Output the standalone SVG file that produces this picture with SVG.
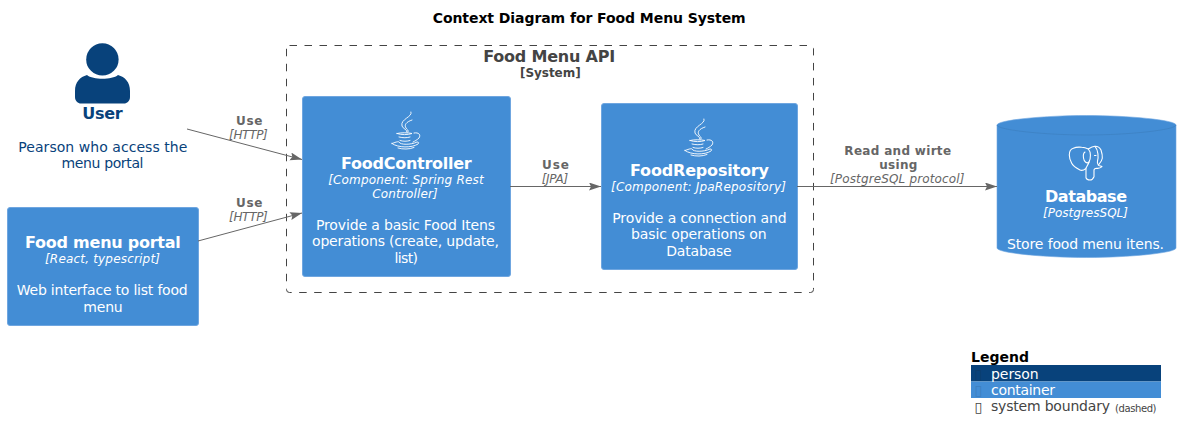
<svg xmlns="http://www.w3.org/2000/svg" width="1191" height="440" viewBox="0 0 1191 440">
<style>
text{font-family:"DejaVu Sans",sans-serif;text-anchor:middle}
.box{fill:#438DD5;stroke:#6FA6E0;stroke-width:1}
.n{font-size:16px;font-weight:bold;fill:#fff}
.t{font-size:12px;font-style:italic;fill:#fff}
.d{font-size:14px;fill:#fff}
.cb{font-size:12px;font-weight:bold;fill:#666}
.ci{font-size:12px;font-style:italic;fill:#666}
.con{fill:none;stroke:#666;stroke-width:1}
.ic{fill:none;stroke:#fff;stroke-width:.9;stroke-linecap:round;stroke-linejoin:round}
.lg{font-size:14px;text-anchor:start}
</style>
<defs>
<marker id="a" markerUnits="userSpaceOnUse" markerWidth="13" markerHeight="10" refX="12" refY="4" orient="auto"><path d="M0 0L12 4L0 8L2 4Z" fill="#666"/></marker>
<g id="java" class="ic">
<path d="M5-19C7-14-6-12-4-5C-3-2 1-2 1 1"/>
<path d="M6-11C0-9-2-6 0-3C1-1 3-1 2 1"/>
<path d="M-9 2.500C-5 1.500 2 1.500 6 2.500C2 4-5 4-9 2.500Z"/>
<path d="M-7 6C-3 7 1 7 4 6M-6 9.500C-3 10.500 1 10.500 4 9.500"/>
<path d="M8 2C13 1 15 4 13 7C11 9 9 10 7 11"/>
<path d="M-14 12.500C-9 10.500-7 10.500-7 11C-6 14 5 14 11 11C13 11 13 12 12 13C6 17-8 17-14 12.500Z"/>
<path d="M-8 17C-3 18.500 3 18.500 8 16.500"/>
</g>
</defs>
<text x="589.200" y="23" font-size="14" font-weight="bold" fill="#000" textLength="313">Context Diagram for Food Menu System</text>

<g id="boundary">
<rect x="286.500" y="45.500" width="527" height="247" rx="3" fill="none" stroke="#444" stroke-width="1" stroke-dasharray="7.500,7.500"/>
<text x="549.200" y="62" font-size="16" font-weight="bold" fill="#444" textLength="132">Food Menu API</text>
<text x="550.300" y="77" font-size="12" font-weight="bold" fill="#444" textLength="60.700">[System]</text>
</g>

<g id="user">
<circle cx="102.400" cy="59.400" r="16.200" fill="#08427B"/>
<path d="M75 97V91C75 82 80 77 87 75C93 80 112 80 118 75C125 77 130 82 130 91V97C130 101 127 103.500 124 103.500H81C78 103.500 75 101 75 97Z" fill="#08427B"/>
<text x="102.500" y="118.500" font-size="16" font-weight="bold" fill="#08427B" textLength="40.400">User</text>
<text x="102.800" y="152" font-size="14" fill="#08427B" textLength="169">Pearson who access the</text>
<text x="102.500" y="168" font-size="14" fill="#08427B" textLength="82">menu portal</text>
</g>

<g id="portal">
<rect class="box" x="7.500" y="207.500" width="191" height="118" rx="2.500"/>
<text class="n" x="102.900" y="248" textLength="155.700">Food menu portal</text>
<text class="t" x="102.500" y="263" textLength="115">[React, typescript]</text>
<text class="d" x="102.200" y="295" textLength="171">Web interface to list food</text>
<text class="d" x="103" y="312" textLength="39.400">menu</text>
</g>

<g id="foodController">
<rect class="box" x="302.500" y="96.500" width="208" height="180" rx="2.500"/>
<use href="#java" x="406" y="131"/>
<text class="n" x="406.400" y="169" textLength="130.700">FoodController</text>
<text class="t" x="405.900" y="184" textLength="155.500">[Component: Spring Rest</text>
<text class="t" x="405" y="198" textLength="65.400">Controller]</text>
<text class="d" x="405.500" y="229.500" textLength="179">Provide a basic Food Itens</text>
<text class="d" x="405.500" y="246" textLength="187">operations (create, update,</text>
<text class="d" x="406.300" y="263" textLength="23.500">list)</text>
</g>

<g id="foodRepository">
<rect class="box" x="601.500" y="103.500" width="196" height="166" rx="2.500"/>
<use href="#java" x="699" y="138"/>
<text class="n" x="699.500" y="176" textLength="139">FoodRepository</text>
<text class="t" x="698.500" y="191" textLength="175">[Component: JpaRepository]</text>
<text class="d" x="699.500" y="223" textLength="174.400">Provide a connection and</text>
<text class="d" x="698.800" y="239" textLength="135.700">basic operations on</text>
<text class="d" x="699" y="256" textLength="65.400">Database</text>
</g>

<g id="database">
<path d="M997 125C997 120 1045 115.500 1086.500 115.500C1128 115.500 1176 120 1176 125V248C1176 253 1128 257.500 1086.500 257.500C1045 257.500 997 253 997 248Z" fill="#438DD5" stroke="#6FA6E0" stroke-width=".6"/>
<path d="M997 125C997 130 1045 135 1086.500 135C1128 135 1176 130 1176 125" fill="none" stroke="#3C7FC0" stroke-width=".7"/>
<g class="ic" style="stroke-width:1.1">
<path d="M1080 170C1076 168 1073 166 1071.700 163.300C1070 160 1069.300 158 1069.300 155C1069.300 151 1071 149 1073.300 148.300C1076 147 1079 147 1081.700 147.300C1084 147.500 1086 148 1088.300 149C1090.500 147.500 1093 146.300 1095 146.300C1098 146.300 1100 148 1101 150C1102 153 1102.500 156 1102.300 158.300C1102 161 1100 163 1098.300 165C1099 166 1101 166 1102 166.700C1100 168.500 1098.500 168.500 1096.700 168.300C1095 168.500 1094 169 1094 170V176.700C1093 179 1091.500 180 1090 180C1088 180 1086.500 179 1086 177.700V168.300C1084 170 1082 171 1080 170Z"/>
<path d="M1088.300 149C1091 152 1091 158 1089 162C1087 164 1084 162 1083.500 158C1083 155 1083.500 153 1085 152"/>
<path d="M1095 146.300C1098.500 150 1098.500 158 1097.500 161C1097 163 1097.500 164 1098.300 165M1086 168C1087 166 1088.500 164 1089 162M1094.500 155.500H1096"/>
</g>
<text class="n" x="1086" y="202" textLength="82">Database</text>
<text class="t" x="1085.500" y="217" textLength="85">[PostgresSQL]</text>
<text class="d" x="1085.500" y="249" textLength="157">Store food menu itens.</text>
</g>

<g id="connectors">
<line class="con" x1="187" y1="129" x2="302" y2="159.500" marker-end="url(#a)"/>
<line class="con" x1="198" y1="241" x2="302" y2="213" marker-end="url(#a)"/>
<line class="con" x1="510" y1="186.500" x2="601" y2="186.500" marker-end="url(#a)"/>
<line class="con" x1="797" y1="186.500" x2="997" y2="186.500" marker-end="url(#a)"/>
<text class="cb" x="249.200" y="125" textLength="26.400">Use</text>
<text class="ci" x="248.400" y="138.500" textLength="38.700">[HTTP]</text>
<text class="cb" x="249.200" y="207" textLength="26.400">Use</text>
<text class="ci" x="248.400" y="221" textLength="38.700">[HTTP]</text>
<text class="cb" x="555.500" y="168.500" textLength="27">Use</text>
<text class="ci" x="554.900" y="182.500" textLength="26.400">[JPA]</text>
<text class="cb" x="897.700" y="155" textLength="106.700">Read and wirte</text>
<text class="cb" x="898.300" y="169" textLength="38">using</text>
<text class="ci" x="897.200" y="182.500" textLength="134.300">[PostgreSQL protocol]</text>
</g>

<g id="legend">
<text x="971" y="362" font-size="14" font-weight="bold" fill="#000" style="text-anchor:start">Legend</text>
<rect x="971" y="365" width="190" height="16.500" fill="#08427B"/>
<rect x="971" y="381.500" width="190" height="16.500" fill="#438DD5"/>
<text class="lg" x="974.500" y="379" fill="#0D3D6D">▯</text>
<text class="lg" x="974.500" y="395" fill="#3C7FC0">▯</text>
<text class="lg" x="974.500" y="412" fill="#444">▯</text>
<text class="lg" x="991" y="378.500" fill="#fff" textLength="47.700">person</text>
<text class="lg" x="991" y="394.500" fill="#fff" textLength="64">container</text>
<text class="lg" x="991" y="411" fill="#444" textLength="119">system boundary</text>
<text x="1115" y="412" font-size="10" fill="#444" style="text-anchor:start" textLength="41.500">(dashed)</text>
</g>
</svg>
